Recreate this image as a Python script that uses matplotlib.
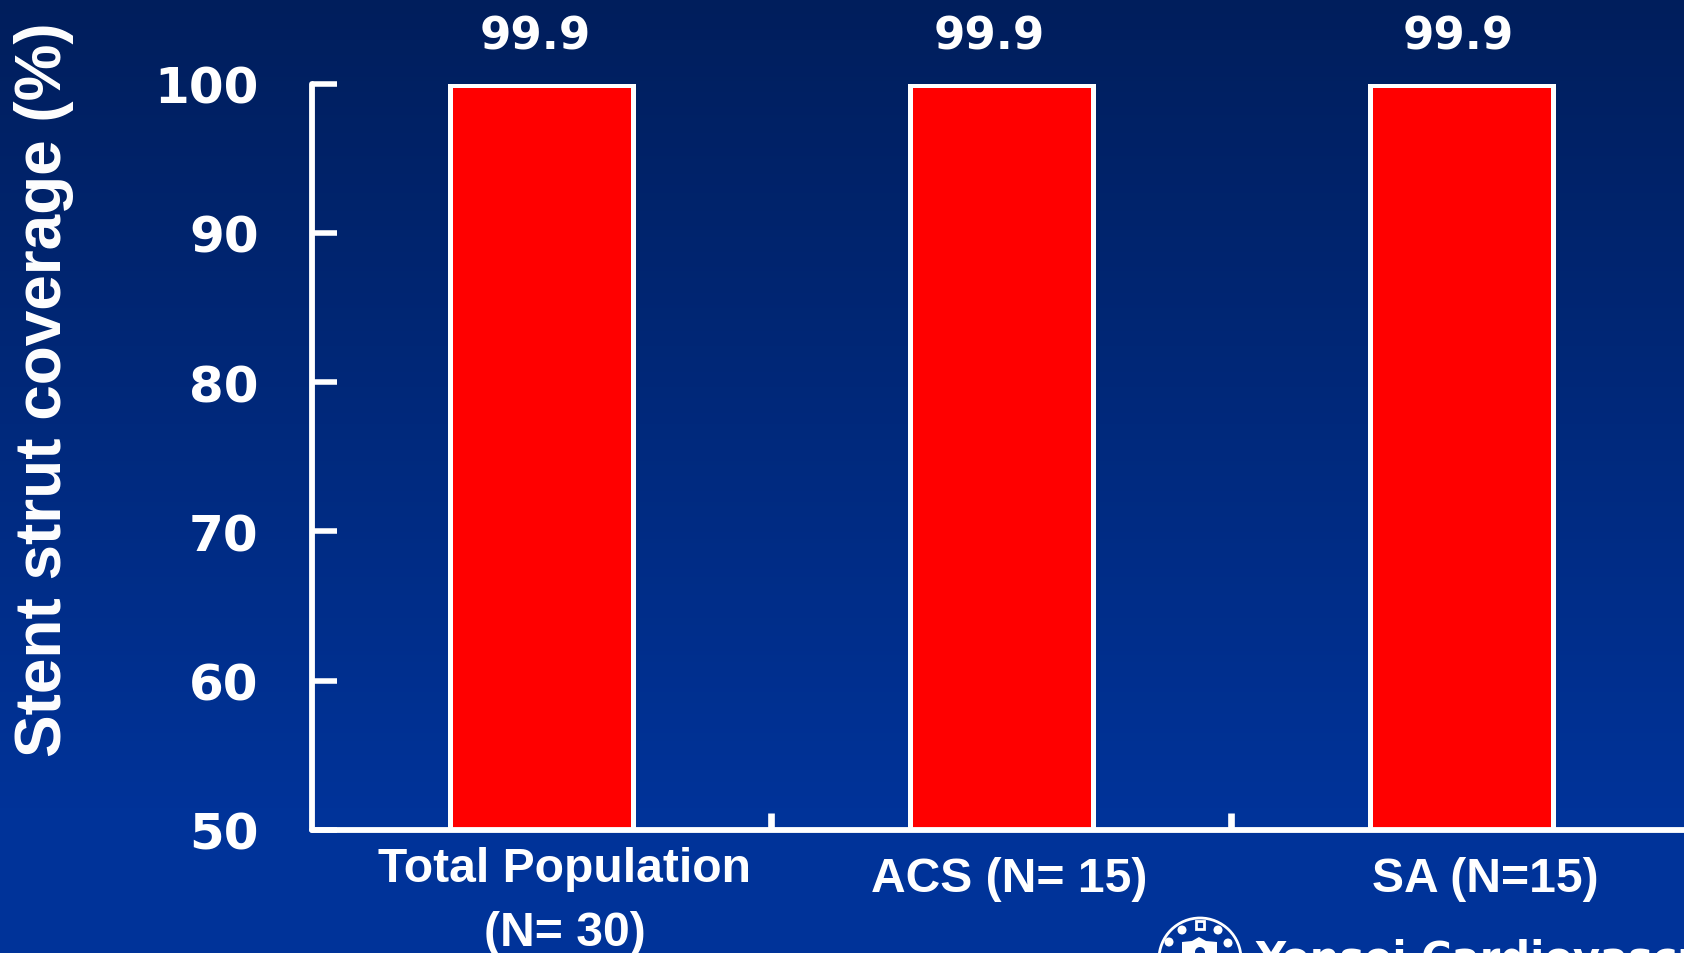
import matplotlib
matplotlib.use('Agg')
import matplotlib.pyplot as plt
import numpy as np
from matplotlib.colors import LinearSegmentedColormap
from matplotlib.patches import Circle, Polygon, Rectangle

groups = ['Total Population\n(N= 30)', 'ACS (N= 15)', 'SA (N=15)']
coverage = [99.9, 99.9, 99.9]
y_ticks = [50, 60, 70, 80, 90, 100]

W, H = 1684, 954
plt.rcParams['font.family'] = ['Liberation Sans', 'DejaVu Sans']

fig = plt.figure(figsize=(W / 100, H / 100), dpi=100)

# vertical background gradient
bg = fig.add_axes([0, 0, 1, 1], zorder=0)
cmap = LinearSegmentedColormap.from_list('slide', [(0, '#001e5c'), (0.85, '#003399'), (1, '#003399')])
bg.imshow(np.linspace(0, 1, 256).reshape(-1, 1), aspect='auto', cmap=cmap, extent=[0, W, H, 0])
bg.set_xlim(0, W)
bg.set_ylim(H, 0)
bg.axis('off')

left, right = 311.5, W
top, bottom = 84.5, 831
ax = fig.add_axes([left / W, 1 - bottom / H, (right - left) / W, (bottom - top) / H], zorder=1)
ax.patch.set_alpha(0)

x = np.arange(len(groups))
ax.bar(x, coverage, width=0.398, color='#ff0000', edgecolor='white', linewidth=3.6, bottom=0)
ax.set_xlim(-0.5, 2.484)
ax.set_ylim(50, 100)

# value labels are not quite centred over their bars
for xi, v, dx in zip(x, coverage, [-4.3, -8.5, -2.3]):
    ax.annotate(f'{v:.1f}', (xi, v), xytext=(dx, 51), textcoords='offset points', ha='center', va='top',
                color='white', fontsize=32.5, family='DejaVu Sans', fontweight='bold')

for side in ['top', 'right']:
    ax.spines[side].set_visible(False)
for side in ['left', 'bottom']:
    ax.spines[side].set_color('white')
    ax.spines[side].set_linewidth(4.2)
    ax.spines[side].set_capstyle('round')
    ax.spines[side].set_zorder(5)

ax.set_yticks(y_ticks)
ax.set_yticklabels([str(t) for t in y_ticks], fontsize=36, fontweight='bold', color='white',
                   family='DejaVu Sans')
ax.tick_params(axis='y', direction='in', length=18, width=4, color='white', pad=38)
ax.set_xticks([0.5, 1.5])
ax.set_xticklabels([])
ax.tick_params(axis='x', direction='in', length=12.5, width=4.8, color='white')

# category labels sit below the axis, in pixel positions of the slide
fig.text(565 / W, 1 - 870 / H, 'Total Population', ha='center', va='center', color='white',
         fontsize=34.6, fontweight='bold')
fig.text(565 / W, 1 - 934 / H, '(N= 30)', ha='center', va='center', color='white',
         fontsize=34.6, fontweight='bold')
fig.text(1009 / W, 1 - 880 / H, groups[1], ha='center', va='center', color='white',
         fontsize=34.6, fontweight='bold')
fig.text(1485 / W, 1 - 880 / H, groups[2], ha='center', va='center', color='white',
         fontsize=34.6, fontweight='bold')

fig.text(44 / W, 1 - 390 / H, 'Stent strut coverage (%)', rotation=90, ha='center', va='center',
         color='white', fontsize=46, fontweight='bold')

# institution seal and name, running off the bottom of the slide
bg.add_patch(Circle((1200, 960), 41, fill=False, edgecolor='white', linewidth=2))
bg.add_patch(Rectangle((1196, 922), 8, 8, fill=False, edgecolor='white', linewidth=2))
for cx, cy, r in [(1182, 931, 4.5), (1218, 931, 4.5), (1169, 943, 4.5), (1228, 944, 4.5)]:
    bg.add_patch(Circle((cx, cy), r, color='white', linewidth=0))
bg.add_patch(Polygon([(1182, 943), (1192, 942), (1199, 938), (1206, 942), (1217, 943), (1217, 954), (1182, 954)],
                     closed=True, color='white', linewidth=0))
bg.add_patch(Circle((1200, 953), 5, color='#003399', linewidth=0))
bg.text(1255, 972, 'Yonsei Cardiovascular Center', color='white', fontsize=30, fontweight='bold',
        family='DejaVu Sans', ha='left', va='baseline', clip_on=True)

fig.savefig('out.png', dpi=100)
